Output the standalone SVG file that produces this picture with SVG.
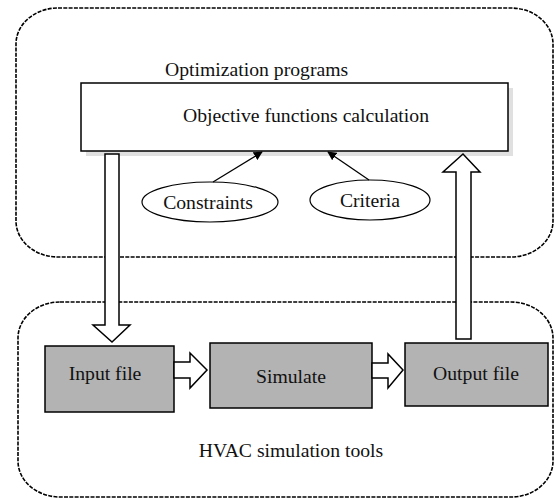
<svg xmlns="http://www.w3.org/2000/svg" width="555" height="498" viewBox="0 0 555 498">
<defs>
<style>
.frame{fill:none;stroke:#000;stroke-width:1.6;stroke-dasharray:4 1.3}
.t{font-family:'Liberation Serif','Times New Roman',serif;font-size:19.7px;fill:#111}
.box{fill:#b3b3b3;stroke:#000;stroke-width:1.5}
.hollow{fill:#fff;stroke:#000;stroke-width:1.5;stroke-linejoin:miter}
.ell{fill:#fff;stroke:#000;stroke-width:1.2}
.ln{stroke:#000;stroke-width:1.3;fill:none}
</style>
<marker id="ah" viewBox="0 0 10 10" refX="9" refY="5" markerWidth="9" markerHeight="9" markerUnits="userSpaceOnUse" orient="auto">
<path d="M0,0 L10,5 L0,10 z" fill="#000"/>
</marker>
</defs>
<g id="opt-frame">
<rect class="frame" x="16" y="8" width="537" height="249" rx="42" ry="36"/>
<text class="t" x="165" y="76">Optimization programs</text>
</g>
<g id="hvac-frame">
<rect class="frame" x="18" y="302" width="535" height="195" rx="42" ry="36"/>
<text class="t" x="291" y="457" text-anchor="middle">HVAC simulation tools</text>
</g>
<g id="objective">
<rect x="86" y="88" width="427" height="68" fill="#e0e0e0"/>
<rect x="81" y="83" width="427" height="68" fill="#fff" stroke="#000" stroke-width="1.5"/>
<text class="t" x="306" y="122" text-anchor="middle">Objective functions calculation</text>
</g>
<g id="constraints">
<ellipse class="ell" cx="210" cy="202" rx="68" ry="20"/>
<text class="t" x="208" y="209" text-anchor="middle">Constraints</text>
</g>
<g id="criteria">
<ellipse class="ell" cx="370" cy="200" rx="60" ry="20"/>
<text class="t" x="370" y="207" text-anchor="middle">Criteria</text>
</g>
<g id="input">
<rect class="box" x="45" y="346" width="129" height="66"/>
<text class="t" x="105" y="380" text-anchor="middle">Input file</text>
</g>
<g id="simulate">
<rect class="box" x="210" y="343" width="162" height="65"/>
<text class="t" x="291" y="383" text-anchor="middle">Simulate</text>
</g>
<g id="output">
<rect class="box" x="405" y="343" width="143" height="63"/>
<text class="t" x="476" y="380" text-anchor="middle">Output file</text>
</g>
<g id="connectors">
<line class="ln" x1="213" y1="182" x2="262" y2="152" marker-end="url(#ah)"/>
<line class="ln" x1="369" y1="180" x2="328" y2="152" marker-end="url(#ah)"/>
<path class="hollow" d="M105,154 L119,154 L119,325 L130,325 L112,342 L93,325 L105,325 Z"/>
<path class="hollow" d="M456,339 L471,339 L471,172 L480,172 L463,154 L443,172 L456,172 Z"/>
<path class="hollow" d="M174,362 L190,362 L190,353 L207,370 L190,388 L190,378 L174,378 Z"/>
<path class="hollow" d="M372,363 L388,363 L388,354 L403,370 L388,388 L388,378 L372,378 Z"/>
</g>
</svg>
